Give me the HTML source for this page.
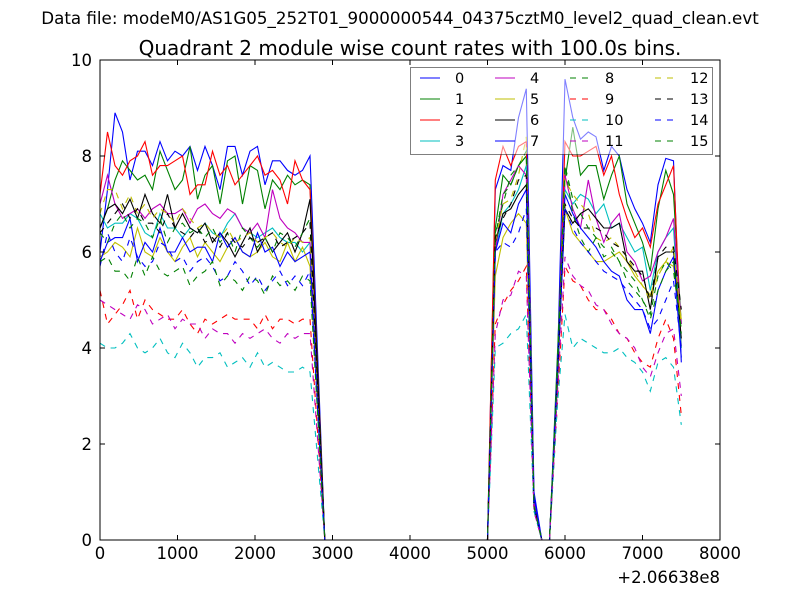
<!DOCTYPE html>
<html><head><meta charset="utf-8"><style>body{margin:0;background:#fff}svg{display:block;font-family:"DejaVu Sans","Liberation Sans",sans-serif}</style></head>
<body>
<svg id="chart" width="800" height="600" xmlns="http://www.w3.org/2000/svg">
<rect width="800" height="600" fill="#fff"/>
<text x="400" y="24" font-size="16.7" text-anchor="middle">Data file: modeM0/AS1G05_252T01_9000000544_04375cztM0_level2_quad_clean.evt</text>
<text x="410" y="55" font-size="20" text-anchor="middle">Quadrant 2 module wise count rates with 100.0s bins.</text>
<g id="lines"></g>
<g id="axes"></g>
<g id="legend"></g>
</svg>
<script>
const xTicks=[0,1000,2000,3000,4000,5000,6000,7000,8000];
const yTicks=[0,2,4,6,8,10];
const offsetLabel="+2.06638e8";
const seriesNames=["0","1","2","3","4","5","6","7","8","9","10","11","12","13","14","15"];
const s0=[6.0,7.3,8.9,8.5,7.5,8.1,8.1,7.8,8.3,7.9,8.1,8.0,8.2,7.7,8.2,7.8,7.3,8.2,8.2,7.6,8.1,8.2,7.4,7.9,7.9,7.7,7.6,7.7,8.0, 0,0, 7.3,7.8,7.7,8.8,9.4, 1.0,0,0,3.5, 9.6,8.8,8.35,8.5,8.4,7.7,8.2,8.0,7.3,6.9,6.6,6.2,7.4,7.95,7.9,3.7];
const s1=[6.5,6.9,7.5,7.9,7.7,7.5,7.6,7.3,8.1,7.7,7.3,7.5,8.2,7.1,7.6,7.8,7.0,7.9,8.0,7.0,7.8,7.7,6.9,7.5,7.3,7.6,7.4,7.5,7.4, 0,0, 6.5,7.6,7.4,7.8,8.0, 0.8,0,0,3.8, 7.5,8.6,7.6,7.8,7.8,7.1,7.6,8.0,7.0,6.6,6.2,5.6,6.9,7.7,7.2,4.5];
const s2=[7.2,8.5,7.8,7.6,7.9,8.0,8.3,7.6,7.8,7.8,7.9,8.0,7.2,7.4,7.4,8.1,7.6,7.8,7.4,7.6,7.8,8.0,7.6,7.7,7.5,7.0,7.9,7.5,7.3, 0,0, 7.5,8.2,7.8,8.2,8.3, 0.7,0,0,3.2, 8.3,8.0,8.0,8.1,8.2,7.6,8.0,7.2,6.7,6.3,6.5,6.1,7.0,7.4,7.8,4.0];
const s3=[6.8,6.5,6.6,6.6,6.8,6.7,6.4,6.3,6.8,6.5,6.5,6.3,6.5,6.4,6.6,6.4,6.3,6.6,6.8,6.5,6.4,6.3,6.4,6.5,6.3,6.2,6.2,6.0,6.2, 0,0, 6.0,6.8,7.0,7.3,7.8, 0.8,0,0,3.5, 7.3,7.0,7.2,7.1,6.8,7.0,6.5,6.6,6.3,6.0,6.1,5.2,6.0,6.3,6.5,4.0];
const s4=[7.0,7.6,7.0,6.7,6.8,6.9,6.7,6.9,7.0,6.8,6.8,6.9,6.6,6.9,7.0,6.8,6.7,6.9,6.8,6.5,6.4,6.6,6.3,7.3,6.7,6.5,6.4,6.2,6.2, 0,0, 6.0,7.2,7.5,7.8,7.6, 0.8,0,0,3.4, 7.6,6.9,6.5,7.5,6.7,6.2,6.6,6.8,6.0,5.8,5.4,5.5,6.0,6.3,6.7,4.5];
const s5=[5.9,6.0,6.2,6.1,5.9,6.5,6.0,5.9,6.3,6.0,5.8,6.1,6.3,5.9,6.2,6.0,5.8,6.1,6.3,6.0,5.9,6.0,6.2,5.9,5.8,6.2,5.8,6.1,5.7, 0,0, 5.5,6.3,6.6,6.8,6.6, 0.7,0,0,3.5, 6.9,6.4,6.2,6.0,5.8,5.8,5.9,6.0,5.8,5.5,5.3,5.1,5.6,5.8,5.7,4.6];
const s6=[6.5,6.9,7.0,6.8,7.1,6.7,7.2,6.8,6.6,7.2,6.5,6.8,6.5,6.4,6.6,6.2,6.4,6.2,5.9,6.2,6.5,6.0,6.3,6.0,6.2,6.4,6.0,6.4,7.1, 0,0, 6.2,6.8,6.9,7.2,7.4, 0.7,0,0,3.3, 6.9,6.6,6.8,6.9,6.7,6.5,6.5,6.6,5.8,5.6,5.6,4.8,5.9,6.0,6.0,4.2];
const s7=[5.8,6.2,6.3,6.3,6.7,5.8,6.2,6.0,6.5,6.0,6.0,6.3,6.0,6.1,6.1,5.8,6.4,6.1,6.3,6.0,5.9,6.4,6.0,6.1,5.7,6.0,5.8,5.9,6.0, 0,0, 6.0,6.6,6.4,7.0,7.3, 0.9,0,0,3.6, 7.2,6.8,6.5,6.3,6.1,5.8,5.6,5.5,5.0,4.8,4.8,4.3,5.2,5.6,5.9,3.8];
const s8=[6.4,6.2,6.6,6.8,6.5,6.7,6.6,6.3,6.7,6.2,6.5,6.6,6.4,6.5,6.3,6.5,6.2,6.4,6.0,6.5,6.3,6.1,6.3,6.0,6.4,6.3,6.1,6.4,6.7, 0,0, 6.3,7.2,7.4,7.8,8.0, 0.7,0,0,3.5, 7.8,6.8,6.3,6.0,6.3,5.9,6.0,5.8,5.4,5.2,5.0,4.7,5.5,5.8,5.6,4.4];
const s9=[5.2,4.5,4.7,4.9,5.2,4.6,5.0,4.8,4.7,4.6,4.6,4.8,4.5,4.3,4.6,4.5,4.6,4.7,4.6,4.6,4.6,4.4,4.7,4.4,4.6,4.6,4.5,4.6,4.6, 0,0, 4.5,4.9,5.2,5.4,5.7, 0.6,0,0,2.8, 5.7,5.4,5.3,5.0,4.8,4.8,4.6,4.3,4.2,3.9,3.7,3.6,4.2,4.6,4.2,2.6];
const s10=[4.1,4.0,4.0,4.1,4.3,4.0,3.9,4.0,4.2,3.9,3.8,4.1,3.9,3.6,3.8,3.8,3.9,3.6,3.7,3.8,3.6,3.9,3.6,3.7,3.6,3.5,3.5,3.6,3.5, 0,0, 4.0,4.1,4.3,4.4,4.7, 0.6,0,0,2.8, 4.7,4.0,4.2,4.1,4.0,3.9,3.9,4.0,3.8,3.7,3.5,3.1,3.7,3.8,3.6,2.4];
const s11=[5.0,4.9,4.8,4.7,4.6,4.9,4.8,4.5,4.6,4.7,4.4,4.6,4.5,4.5,4.2,4.4,4.3,4.3,4.1,4.3,4.2,4.3,4.4,4.2,4.1,4.3,4.2,4.3,4.3, 0,0, 4.3,5.0,5.1,5.6,5.5, 0.6,0,0,3.0, 5.9,5.5,5.3,5.2,4.9,4.8,4.5,4.3,4.2,4.0,3.6,3.4,3.9,4.3,4.4,3.0];
const s12=[6.8,7.3,7.3,6.9,7.2,6.8,7.0,6.7,6.9,6.8,6.6,6.9,6.7,6.5,6.6,6.4,6.3,6.5,6.2,6.3,6.4,6.2,6.3,6.4,6.2,6.1,6.3,6.2,6.3, 0,0, 6.2,7.0,7.1,7.6,8.4, 0.7,0,0,3.4, 7.5,7.2,7.0,6.8,6.3,6.2,6.3,6.1,5.9,5.6,5.3,5.0,5.5,5.8,6.1,4.5];
const s13=[6.4,6.6,6.8,7.0,6.7,6.9,6.6,6.6,6.4,6.8,6.5,6.4,6.3,6.5,6.2,6.3,6.1,6.4,6.2,6.1,6.3,6.2,6.3,6.4,6.1,6.2,6.3,6.4,6.6, 0,0, 6.3,6.7,7.0,7.5,7.6, 0.7,0,0,3.4, 7.0,6.7,6.5,6.5,6.5,6.4,6.2,6.1,5.9,5.7,5.5,5.0,5.9,6.1,6.1,4.8];
const s14=[5.7,6.4,6.0,5.8,6.3,5.9,5.7,5.8,6.2,6.1,5.8,5.9,5.6,5.8,5.9,5.7,5.4,5.5,5.8,5.6,5.3,5.5,5.2,5.4,5.6,5.3,5.5,5.3,5.6, 0,0, 6.0,6.2,6.1,6.4,6.9, 0.7,0,0,3.3, 6.9,6.5,6.2,6.0,5.8,5.6,5.5,5.4,5.2,5.0,4.8,4.4,4.6,5.0,5.4,4.0];
const s15=[5.8,5.9,5.6,5.6,5.4,5.9,5.5,5.9,5.6,5.5,5.6,5.7,5.3,5.5,5.6,5.8,5.3,5.5,5.4,5.2,5.5,5.4,5.1,5.5,5.3,5.4,5.2,5.5,5.4, 0,0, 6.4,7.0,7.6,7.8,8.1, 0.7,0,0,3.4, 7.8,7.1,6.8,6.5,6.3,6.1,6.1,5.8,5.6,5.4,5.0,4.6,5.2,5.6,5.8,4.3];
const timeBins=[0,97,194,290,387,484,581,678,774,871,968,1065,1161,1258,1355,1452,1549,1645,1742,1839,1936,2032,2129,2226,2323,2420,2516,2613,2710,2900,5000,5100,5200,5300,5400,5500,5600,5700,5800,5900,6000,6100,6200,6300,6400,6500,6600,6700,6800,6900,7000,7100,7200,7300,7400,7500];
const allSeries=[s0,s1,s2,s3,s4,s5,s6,s7,s8,s9,s10,s11,s12,s13,s14,s15];
const colors=["#0000ff","#008000","#ff0000","#00bfbf","#bf00bf","#bfbf00","#000000"];
const L=100,R=720,T=60,B=540;
const X=v=>L+(v-0)/8000*(R-L);
const Y=v=>B-(v-0)/10*(B-T);
const NS="http://www.w3.org/2000/svg";
function mk(tag,attrs,parent){const e=document.createElementNS(NS,tag);for(const k in attrs)e.setAttribute(k,attrs[k]);parent.appendChild(e);return e;}
const gl=document.getElementById('lines');
allSeries.forEach((s,i)=>{
  const pts=s.map((v,j)=>X(timeBins[j]).toFixed(1)+","+Y(v).toFixed(1)).join(" ");
  const p=mk('polyline',{points:pts,fill:"none",stroke:colors[i%7],"stroke-width":1.1,"stroke-dasharray":i>=8?"6,6":"none"},gl);
  
  
});
const lg=document.getElementById('legend');
const lbox=mk('rect',{x:410.5,y:67.5,width:302,height:87,fill:"#fff","fill-opacity":0.5,stroke:"#000","stroke-opacity":0.5},lg);


const colX=[420,495,570,655];
seriesNames.forEach((n,i)=>{
  const c=Math.floor(i/4),r=i%4;
  const y=78+r*21;
  const ln=mk('line',{x1:colX[c],x2:colX[c]+20,y1:y,y2:y,stroke:colors[i%7],"stroke-width":1.1,"stroke-dasharray":i>=8?"6,6":"none"},lg);
  
  
  const t=mk('text',{x:colX[c]+35,y:y+5,"font-size":14.5},lg);
  t.textContent=n;
  
  
});
const ga=document.getElementById('axes');
const fr=mk('rect',{x:L,y:T,width:R-L,height:B-T,fill:"none",stroke:"#000","stroke-width":1},ga);


xTicks.forEach(v=>{
  const x=X(v);
  mk('line',{x1:x,x2:x,y1:B,y2:B-5,stroke:"#000"},ga);
  mk('line',{x1:x,x2:x,y1:T,y2:T+5,stroke:"#000"},ga);
  const t=mk('text',{x:x,y:B+19,"font-size":16.5,"text-anchor":"middle"},ga);
  t.textContent=v;
  
  
});
yTicks.forEach(v=>{
  const y=Y(v);
  mk('line',{x1:L,x2:L+5,y1:y,y2:y,stroke:"#000"},ga);
  mk('line',{x1:R,x2:R-5,y1:y,y2:y,stroke:"#000"},ga);
  const t=mk('text',{x:L-8,y:y+6,"font-size":16.5,"text-anchor":"end"},ga);
  t.textContent=v;
  
  
});
const off=mk('text',{x:R,y:B+43,"font-size":16.5,"text-anchor":"end"},ga);
off.textContent=offsetLabel;


</script>
</body></html>
